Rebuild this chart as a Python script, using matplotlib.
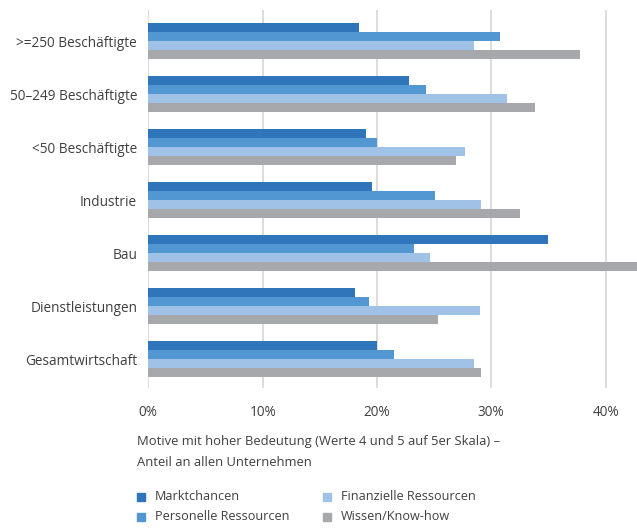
import numpy as np
import matplotlib.pyplot as plt

plt.rcParams['font.family'] = ['Open Sans', 'DejaVu Sans']

# data (Anteil in %)
categories = ['>=250 Beschäftigte', '50\u2013249 Beschäftigte', '<50 Beschäftigte',
              'Industrie', 'Bau', 'Dienstleistungen', 'Gesamtwirtschaft']
series = ['Marktchancen', 'Personelle Ressourcen', 'Finanzielle Ressourcen', 'Wissen/Know-how']
markt = [18.4, 22.8, 19.0, 19.6, 35.0, 18.1, 20.0]
personal = [30.8, 24.3, 20.0, 25.1, 23.2, 19.3, 21.5]
finanz = [28.5, 31.4, 27.7, 29.1, 24.6, 29.0, 28.5]
wissen = [37.8, 33.8, 26.9, 32.5, 43.5, 25.3, 29.1]
xticks = [0, 10, 20, 30, 40]

colors = ['#2E75B9', '#5297D2', '#A0C2E6', '#A7A8AB']
text_col = '#3F3F3F'

fig = plt.figure(figsize=(6.37, 5.32), dpi=100)
ax = fig.add_axes([148.3 / 637, 1 - 388 / 532, (637 - 148.3) / 637, 378 / 532])

y = np.arange(len(categories))
h = 0.17
for i, (vals, c) in enumerate(zip([markt, personal, finanz, wissen], colors)):
    ax.barh(y + (i - 1.5) * h, vals, height=h, color=c, label=series[i], zorder=3)

ax.set_xlim(0, 42.75)
ax.set_ylim(6.547, -0.585)
ax.set_yticks(y)
ax.set_yticklabels(categories, fontsize=9.8, color=text_col)
ax.set_xticks(xticks)
ax.set_xticklabels([f'{t}%' for t in xticks], fontsize=9.8, color=text_col)
ax.tick_params(length=0)
ax.tick_params(axis='y', pad=8)
ax.tick_params(axis='x', pad=12)
ax.grid(axis='x', color='#D5D5D5', lw=1.2, zorder=0)
for s in ax.spines.values():
    s.set_visible(False)

fig.text(137 / 637, 1 - 442 / 532, 'Motive mit hoher Bedeutung (Werte 4 und 5 auf 5er Skala) \u2013',
         fontsize=9.4, color=text_col, va='center')
fig.text(137 / 637, 1 - 462 / 532, 'Anteil an allen Unternehmen',
         fontsize=9.4, color=text_col, va='center')

# legend
pos = [(137, 497), (137, 517), (323, 497), (323, 517)]
for (px, py), name, c in zip(pos, series, colors):
    fig.patches.append(plt.Rectangle((px / 637, 1 - (py + 4) / 532), 8 / 637, 8 / 532,
                                     transform=fig.transFigure, color=c))
    fig.text((px + 18) / 637, 1 - py / 532, name, fontsize=9.1, color=text_col, va='center')

fig.savefig('out.png', dpi=100)
